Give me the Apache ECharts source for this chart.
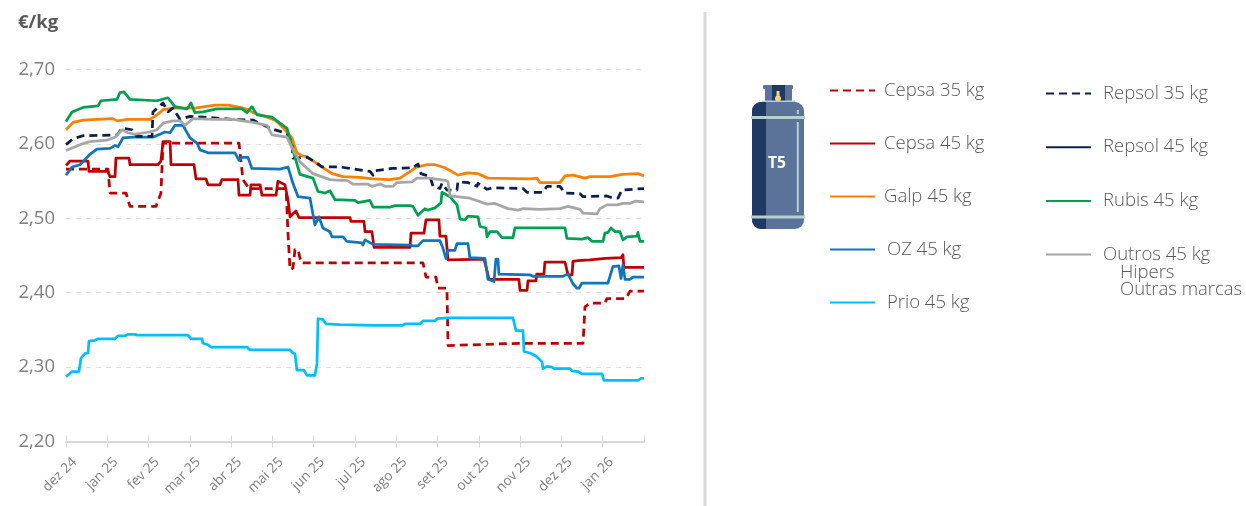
<!DOCTYPE html>
<html>
<head>
<meta charset="utf-8">
<title>T5 €/kg</title>
<script src="https://cdn.jsdelivr.net/npm/echarts@6/dist/echarts.min.js"></script>
<style>
html,body{margin:0;padding:0;background:#fff}
#main{width:1246px;height:506px}
</style>
</head>
<body>
<div id="main"></div>
<script>
// eixo x em dias desde o inicio, 30 = um mes no grafico
var months = ["dez 24","jan 25","fev 25","mar 25","abr 25","mai 25","jun 25","jul 25","ago 25","set 25","out 25","nov 25","dez 25","jan 26"];

var cepsa35 = [[0,2.566],[30.5,2.566],[32,2.534],[43.6,2.534],[46.5,2.516],[65.4,2.516],[69,2.534],[70.5,2.601],[125.7,2.601],[128.6,2.552],[133,2.540],[159.9,2.540],[161.3,2.480],[162.8,2.431],[164.9,2.433],[166.4,2.458],[168.6,2.458],[170.8,2.440],[259.4,2.440],[261.6,2.421],[268.8,2.421],[270.3,2.406],[276.8,2.406],[277.6,2.329],[329.9,2.332],[375.7,2.332],[377.1,2.381],[380.7,2.386],[391.6,2.386],[393.1,2.392],[406.9,2.392],[409.8,2.402],[420,2.402]];

var cepsa45 = [[0,2.571],[2.9,2.577],[16,2.577],[16.7,2.563],[30.5,2.563],[32,2.556],[35.6,2.556],[36.3,2.581],[45.8,2.581],[46.5,2.572],[66.8,2.572],[69,2.577],[70.5,2.603],[75.6,2.603],[76.3,2.572],[93,2.572],[94.5,2.553],[101.7,2.553],[103.2,2.545],[111.9,2.545],[113.3,2.552],[125,2.552],[125.7,2.531],[133.7,2.531],[134.4,2.545],[141,2.545],[142.4,2.531],[152.6,2.531],[154,2.550],[159.1,2.545],[161.3,2.525],[162.8,2.502],[167.1,2.510],[169.3,2.501],[206.4,2.501],[207,2.496],[216.5,2.496],[217.3,2.482],[222.3,2.482],[223.8,2.461],[250,2.461],[250.7,2.480],[260.1,2.480],[261.6,2.498],[271,2.498],[271.7,2.476],[276.1,2.476],[277.6,2.444],[279,2.445],[303.7,2.445],[305.9,2.430],[307.3,2.418],[329.1,2.418],[329.9,2.403],[335,2.403],[335.7,2.416],[341.5,2.416],[342,2.425],[347.3,2.425],[348,2.441],[362.6,2.441],[364.8,2.424],[367.7,2.424],[368.4,2.442],[372,2.443],[380.7,2.444],[392,2.446],[403.3,2.447],[404.7,2.451],[405.4,2.434],[420,2.434]];

var galp45 = [[0,2.619],[5.1,2.629],[12.4,2.632],[22.5,2.633],[34.1,2.634],[37.1,2.631],[45,2.633],[61,2.633],[66.1,2.639],[70.5,2.646],[77.7,2.648],[87.9,2.648],[93.7,2.648],[101,2.650],[108.3,2.652],[117.7,2.652],[126.4,2.649],[132.2,2.646],[135.9,2.642],[144.6,2.637],[151.9,2.632],[159.1,2.619],[164.2,2.608],[167.8,2.588],[171.5,2.584],[175.1,2.583],[186.7,2.568],[193.3,2.560],[201.3,2.556],[213.6,2.555],[223.1,2.553],[235.4,2.552],[242.7,2.554],[248.5,2.561],[255,2.569],[262.3,2.572],[268.1,2.572],[275.4,2.568],[284.8,2.558],[291.4,2.561],[299.4,2.560],[306.6,2.554],[337.1,2.553],[342.2,2.554],[344.4,2.548],[358.9,2.548],[362.6,2.557],[368.4,2.558],[377.1,2.554],[380.7,2.556],[395.3,2.556],[404,2.559],[415.6,2.560],[420,2.557]];

var oz45 = [[0,2.558],[4.4,2.569],[10.2,2.572],[17.4,2.586],[22.5,2.593],[32,2.594],[35.6,2.598],[37.8,2.596],[41.4,2.608],[48.7,2.609],[63.2,2.609],[71.9,2.616],[75.6,2.615],[79.2,2.625],[85,2.625],[90.1,2.608],[95.2,2.601],[97.4,2.592],[103.2,2.588],[122.8,2.588],[125.7,2.578],[127.9,2.582],[132.2,2.582],[135.1,2.567],[155.5,2.566],[161.3,2.569],[164.9,2.547],[168.6,2.529],[177.3,2.527],[180.9,2.491],[183.8,2.502],[186.7,2.487],[191.8,2.482],[193.3,2.475],[201.3,2.475],[204.2,2.469],[215.1,2.467],[215.8,2.464],[217.3,2.471],[223.1,2.465],[250,2.464],[252.1,2.463],[255.8,2.463],[259.4,2.470],[271.7,2.470],[273.9,2.460],[276.1,2.446],[277.6,2.457],[282.6,2.457],[284.1,2.466],[292.1,2.466],[293.5,2.447],[304.4,2.446],[306.6,2.418],[311,2.415],[312.4,2.445],[313.9,2.445],[314.6,2.425],[337.1,2.424],[339.3,2.422],[361.1,2.422],[364.8,2.425],[366.2,2.425],[368.4,2.412],[371.3,2.406],[372.8,2.406],[374.9,2.413],[393.8,2.413],[397.4,2.435],[401.8,2.436],[403.3,2.419],[404.7,2.437],[406.2,2.418],[409.8,2.418],[412,2.421],[420,2.421]];

var prio45 = [[0,2.287],[4.4,2.294],[9.4,2.294],[10.9,2.312],[13.8,2.318],[16,2.319],[16.7,2.335],[21,2.336],[23.3,2.338],[35.6,2.338],[37.8,2.342],[42.9,2.342],[45,2.344],[50.1,2.344],[51.6,2.343],[88.6,2.343],[90.8,2.338],[98.8,2.338],[99.5,2.332],[103.2,2.330],[105.4,2.327],[131.5,2.327],[133.7,2.323],[162.8,2.323],[164.9,2.319],[166.4,2.318],[167.8,2.296],[172.9,2.296],[175.1,2.289],[180.9,2.289],[182.4,2.305],[183.1,2.365],[186.7,2.364],[188.9,2.358],[199.1,2.357],[223.1,2.356],[244.1,2.356],[246.3,2.358],[257.2,2.358],[259.4,2.362],[268.1,2.362],[269.6,2.365],[276.8,2.366],[324.8,2.366],[327,2.349],[332.1,2.349],[332.8,2.321],[337.1,2.319],[341.5,2.315],[345.9,2.307],[346.6,2.298],[349.5,2.301],[353.1,2.300],[354.6,2.298],[366.2,2.298],[367.7,2.295],[372,2.294],[374.9,2.291],[389.5,2.291],[390.9,2.282],[415.6,2.282],[417.8,2.285],[420,2.285]];

var repsol35 = [[0,2.599],[5.1,2.607],[12.4,2.611],[37.1,2.612],[40.7,2.621],[48,2.619],[51.6,2.610],[62.5,2.610],[63.2,2.643],[70.5,2.655],[74.1,2.643],[77.7,2.648],[82.8,2.633],[90.1,2.637],[99.5,2.636],[121.3,2.633],[135.9,2.632],[148.2,2.621],[160.6,2.614],[164.2,2.601],[164.9,2.581],[175.1,2.582],[180.9,2.576],[186,2.569],[199.1,2.569],[206.4,2.567],[220.9,2.563],[223.1,2.558],[224.5,2.564],[236.9,2.567],[252.1,2.568],[255.8,2.573],[257.9,2.560],[264.5,2.556],[266.7,2.543],[271.7,2.540],[273.2,2.547],[276.8,2.538],[284.1,2.538],[284.8,2.549],[292.1,2.548],[298.6,2.543],[299.4,2.547],[305.9,2.539],[310.3,2.541],[332.1,2.540],[335,2.535],[346.6,2.535],[349.5,2.543],[358.9,2.543],[362.6,2.534],[373.5,2.533],[375.7,2.529],[393.1,2.530],[397.4,2.527],[401.1,2.527],[404,2.538],[420,2.540]];

// sem linha visivel no grafico, so aparece na legenda
var repsol45 = [];

var rubis45 = [[0,2.630],[4.4,2.643],[12.4,2.649],[23.3,2.651],[25.4,2.658],[37.1,2.660],[39.2,2.669],[42.1,2.670],[46.5,2.660],[66.1,2.658],[74.1,2.662],[79.2,2.650],[87.9,2.647],[90.8,2.655],[93.7,2.642],[99.5,2.643],[109.7,2.647],[127.9,2.647],[131.5,2.642],[135.1,2.650],[138.8,2.639],[149.7,2.636],[154,2.630],[160.6,2.621],[164.9,2.592],[170,2.559],[179.5,2.554],[183.1,2.536],[188.2,2.534],[191.8,2.537],[195.5,2.525],[210,2.524],[212.2,2.521],[220.9,2.524],[223.1,2.515],[235.4,2.515],[239.1,2.517],[250,2.517],[252.1,2.516],[255.8,2.504],[260.8,2.513],[263,2.511],[268.1,2.514],[272.5,2.521],[273.2,2.535],[279,2.529],[284.1,2.518],[286.3,2.499],[289.9,2.498],[292.1,2.503],[299.4,2.502],[300.8,2.489],[305.2,2.487],[305.9,2.475],[308.1,2.482],[313.2,2.482],[316.8,2.474],[324.8,2.474],[326.2,2.487],[362.6,2.487],[364,2.473],[374.9,2.472],[379.3,2.474],[382.2,2.469],[390.2,2.469],[391.6,2.480],[393.8,2.481],[396,2.487],[397.4,2.487],[398.9,2.482],[402.5,2.482],[404.7,2.471],[407.6,2.475],[414.9,2.476],[415.6,2.481],[417.1,2.469],[420,2.469]];

var outros45 = [[0,2.591],[10.2,2.599],[17.4,2.603],[29.8,2.605],[35.6,2.609],[40.7,2.619],[45,2.615],[50.1,2.613],[61,2.616],[66.1,2.619],[70.5,2.628],[77.7,2.631],[82.8,2.631],[86.5,2.625],[92.3,2.634],[106.8,2.633],[121.3,2.633],[135.9,2.629],[146,2.625],[149.7,2.612],[160.6,2.609],[164.9,2.592],[170,2.576],[179.5,2.560],[191.8,2.552],[199.1,2.551],[204.2,2.551],[208.5,2.546],[219.4,2.546],[222.3,2.543],[228.2,2.546],[231.8,2.543],[237.6,2.543],[240.5,2.548],[251.4,2.549],[255,2.554],[264.5,2.554],[275.4,2.551],[277.6,2.549],[279,2.530],[293.5,2.527],[305.9,2.519],[311.7,2.520],[321.2,2.513],[328.4,2.511],[332.1,2.513],[344.4,2.512],[358.9,2.513],[364.8,2.516],[373.5,2.512],[375.7,2.507],[385.8,2.506],[388,2.513],[393.1,2.518],[400.4,2.518],[404.7,2.520],[409.8,2.520],[413.4,2.523],[420,2.522]];

var seriesCfg = [
	{name:"Cepsa 35 kg",data:cepsa35,color:"#C00000",dash:[8,5]},
	{name:"Cepsa 45 kg",data:cepsa45,color:"#C00000"},
	{name:"Galp 45 kg",data:galp45,color:"#FF8000"},
	{name:"OZ 45 kg",data:oz45,color:"#0F75BC"},
	{name:"Prio 45 kg",data:prio45,color:"#00BFFF"},
	{name:"Repsol 35 kg",data:repsol35,color:"#0B1F4F",dash:[8,5]},
	{name:"Repsol 45 kg",data:repsol45,color:"#0B1F4F"},
	{name:"Rubis 45 kg",data:rubis45,color:"#00A050"},
	{name:"Outros 45 kg",data:outros45,color:"#A6A6A6"}
];

var txt = "#595959", axisCol = "#808080", lightCol = "#D9D9D9", fontName = "'Open Sans'";

function legendCfg(names,left,top,gap,pad){
	return {
		data:names,orient:"vertical",left:left,top:top,padding:0,itemWidth:45,itemHeight:14,itemGap:gap,selectedMode:false,
		itemStyle:{opacity:0},
		textStyle:{color:txt,fontSize:18.5,fontFamily:fontName,fontWeight:300,padding:[0,0,0,pad]}
	};
}

var myChart = echarts.init(document.getElementById('main'),null,{renderer:'canvas'});
myChart.setOption({
	animation:false,
	backgroundColor:"#fff",
	grid:{left:66,right:602,top:69.5,bottom:64.5},
	legend:[
		legendCfg(["Cepsa 35 kg","Cepsa 45 kg","Galp 45 kg",
			{name:"OZ 45 kg",textStyle:{padding:[0,0,0,7]}},
			{name:"Prio 45 kg",textStyle:{padding:[0,0,0,7]}}],829,81,34,4),
		legendCfg(["Repsol 35 kg","Repsol 45 kg","Rubis 45 kg","Outros 45 kg"],1045,84,34.7,7)
	],
	xAxis:[{
		type:"value",min:0,max:420,interval:30,
		axisLine:{show:true,lineStyle:{color:lightCol,width:2}},
		axisTick:{show:true,length:6,lineStyle:{color:lightCol}},
		splitLine:{show:false},
		axisLabel:{
			color:axisCol,fontSize:13.7,fontFamily:fontName,rotate:45,margin:10,showMaxLabel:false,verticalAlign:"top",lineHeight:24,
			formatter:function(v){return months[v/30]||""}
		}
	},{
		type:"value",position:"bottom",min:0,max:420,interval:30,
		axisLine:{show:false},
		axisTick:{show:true,inside:true,length:6,lineStyle:{color:lightCol}},
		axisLabel:{show:false},splitLine:{show:false}
	}],
	yAxis:{
		type:"value",min:2.2,max:2.7,interval:0.1,
		axisLine:{show:false},axisTick:{show:false},
		splitLine:{lineStyle:{color:"#E0E0E0",type:[5,5]}},
		axisLabel:{
			color:axisCol,fontSize:18.5,fontFamily:fontName,margin:11,
			formatter:function(v){return v.toFixed(2).replace(".",",")}
		}
	},
	series:seriesCfg.map(function(s){
		return {
			name:s.name,type:"line",data:s.data,symbol:"none",smooth:false,
			itemStyle:{color:s.color},
			lineStyle:{color:s.color,width:2.75,type:s.dash||"solid",join:"round"}
		};
	}),
	graphic:[
		{type:"text",left:18,top:13,style:{text:"€/kg",fill:txt,font:"bold 18.5px "+fontName}},
		{type:"rect",shape:{x:703.5,y:12,width:3,height:494},style:{fill:lightCol}},
		// botija T5
		{type:"rect",shape:{x:765,y:88,width:27,height:13},style:{fill:"#5B7399"}},
		{type:"rect",shape:{x:763,y:85,width:30,height:4,r:1},style:{fill:"#5B7399"}},
		{type:"rect",shape:{x:772,y:85,width:13,height:16},style:{fill:"#1F3864"}},
		{type:"rect",shape:{x:776.5,y:91,width:3,height:8},style:{fill:"#F2D675"}},
		{type:"circle",shape:{cx:778,cy:98.5,r:3},style:{fill:"#F2D675"}},
		{type:"rect",shape:{x:762,y:100.5,width:33,height:2},style:{fill:"#B8CFD0"}},
		{type:"rect",shape:{x:752,y:102,width:52,height:127,r:9},style:{fill:"#5B7399"}},
		{type:"rect",shape:{x:752,y:102,width:14,height:127,r:[9,0,0,9]},style:{fill:"#1F3864"}},
		{type:"rect",shape:{x:751,y:116,width:54,height:3},style:{fill:"#B8CFD0"}},
		{type:"rect",shape:{x:751,y:215.5,width:54,height:3},style:{fill:"#B8CFD0"}},
		{type:"rect",shape:{x:796.8,y:122,width:2,height:90},style:{fill:"#B8CFD0"}},
		{type:"rect",shape:{x:796.8,y:110,width:2,height:4},style:{fill:"#B8CFD0"}},
		{type:"text",left:768,top:155.5,style:{text:"T5",fill:"#fff",font:"bold 15.5px "+fontName}},
		// linhas extra da legenda
		{type:"text",left:1120,top:263,style:{text:"Hipers",fill:txt,font:"300 18.5px "+fontName}},
		{type:"text",left:1120,top:280,style:{text:"Outras marcas",fill:txt,font:"300 18.5px "+fontName}}
	]
});
window.onresize = myChart.resize;
</script>
</body>
</html>
